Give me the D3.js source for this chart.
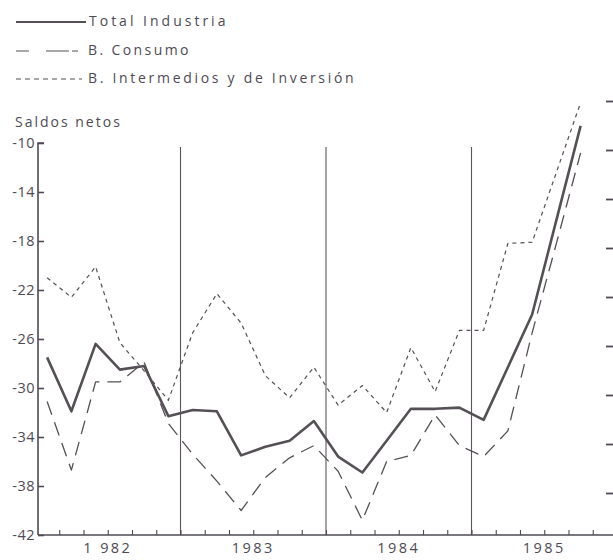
<!DOCTYPE html>
<html>
<head>
<meta charset="utf-8">
<script src="https://cdn.jsdelivr.net/npm/d3@7"></script>
<style>
  html, body { margin: 0; padding: 0; background: #ffffff; }
  svg { display: block; }
  text { font-family: "Open Sans", "DejaVu Sans", sans-serif; fill: #4f4a55; }
</style>
</head>
<body>
<svg id="chart" width="613" height="560"></svg>
<script>
// ---- data (bimonthly survey balances, "saldos netos") ----
const periods = [
  "1982-1","1982-2","1982-3","1982-4","1982-5","1982-6",
  "1983-1","1983-2","1983-3","1983-4","1983-5","1983-6",
  "1984-1","1984-2","1984-3","1984-4","1984-5","1984-6",
  "1985-1","1985-2","1985-3","1985-4","1985-5"
];
const totalIndustria = [
  -27.5, -31.9, -26.4, -28.5, -28.2, -32.3,
  -31.8, -31.9, -35.5, -34.8, -34.3, -32.7,
  -35.6, -36.9, -34.3, -31.7, -31.7, -31.6,
  -32.6, -28.3, -24.0, -16.3, -8.6
];
const bConsumo = [
  -31.1, -36.7, -29.5, -29.5, -27.9, -32.9,
  -35.4, -37.6, -40.0, -37.3, -35.7, -34.7,
  -36.8, -40.8, -36.0, -35.5, -32.2, -34.7,
  -35.6, -33.5, -25.5, -18.2, -10.8
];
const bIntermedios = [
  -21.0, -22.6, -20.1, -26.3, -28.6, -31.0,
  -25.5, -22.3, -24.7, -29.0, -30.8, -28.3,
  -31.4, -29.8, -32.0, -26.7, -30.3, -25.3,
  -25.3, -18.2, -18.1, -12.4, -6.7
];
const years = ["1 982", "1983", "1984", "1985"];
const yTicks = [-10, -14, -18, -22, -26, -30, -34, -38, -42];
const yTickLabels = ["-10", "-14", "-18", "-22", "-26", "-30", "-34", "-38", "-42"];
const rightTicks = [-6, -10, -14, -18, -22, -26, -30, -34, -38];
const seriesNames = ["Total Industria", "B. Consumo", "B. Intermedios y de Inversión"];

// ---- layout ----
const svg = d3.select("#chart");
const ink = "#4f4a55";
const lineInk = "#555055";

const x = d3.scaleLinear().domain([0, 24]).range([35, 617]);
const y = d3.scaleLinear().domain([-42, -10]).range([535, 143]);
const axisX0 = 38;

const series = [
  { name: seriesNames[0], values: totalIndustria, width: 2.6, dash: null },
  { name: seriesNames[1], values: bConsumo, width: 1.3, dash: "14,8" },
  { name: seriesNames[2], values: bIntermedios, width: 1.2, dash: "4,4" }
];

// year separators
svg.append("g").selectAll("line")
  .data([6, 12, 18]).join("line")
  .attr("x1", d => x(d)).attr("x2", d => x(d))
  .attr("y1", 147).attr("y2", y(-42))
  .attr("stroke", "#5e5360").attr("stroke-width", 1.1);

// left axis
const yAxis = d3.axisRight(y).tickValues(yTicks).tickSize(6).tickFormat("");
const gy = svg.append("g").attr("transform", `translate(${axisX0},0)`).call(yAxis);
gy.select(".domain").attr("d", `M6,${y(-10)}H0V${y(-42)}`).attr("stroke", ink).attr("stroke-width", 1.6).attr("fill", "none");
gy.selectAll(".tick line").attr("stroke", ink).attr("stroke-width", 1.6);

svg.append("g").selectAll("text")
  .data(yTicks).join("text")
  .attr("x", 35).attr("y", d => y(d))
  .attr("dy", "0.36em")
  .attr("text-anchor", "end")
  .attr("font-size", 14.5)
  .attr("letter-spacing", 0.5)
  .text((d, i) => yTickLabels[i]);

// bottom axis
const xAxis = d3.axisTop(x).tickValues(d3.range(1, 24)).tickSize(5).tickFormat("");
const gx = svg.append("g").attr("transform", `translate(0,${y(-42)})`).call(xAxis);
gx.select(".domain").attr("d", `M${axisX0},0H613`).attr("stroke", ink).attr("stroke-width", 1.6);
gx.selectAll(".tick line").attr("stroke", ink).attr("stroke-width", 1.1);

svg.append("g").selectAll("text")
  .data(years).join("text")
  .attr("x", (d, i) => x(i * 6 + 3))
  .attr("y", 553)
  .attr("text-anchor", "middle")
  .attr("font-size", 14.5)
  .attr("letter-spacing", 2.4)
  .text(d => d);

// right axis ticks (no labels)
const rAxis = d3.axisLeft(y).tickValues(rightTicks).tickSize(7).tickFormat("");
const gr = svg.append("g").attr("transform", "translate(613,7)").call(rAxis);
gr.select(".domain").remove();
gr.selectAll(".tick line").attr("stroke", ink).attr("stroke-width", 1.8);

// y title
svg.append("text").attr("x", 15).attr("y", 127)
  .attr("font-size", 14).attr("letter-spacing", 2)
  .text("Saldos netos");

// lines
const line = d3.line()
  .x((d, i) => x(i + 0.5))
  .y(d => y(d));

svg.append("g").selectAll("path")
  .data(series).join("path")
  .attr("d", d => line(d.values))
  .attr("fill", "none")
  .attr("stroke", lineInk)
  .attr("stroke-width", d => d.width)
  .attr("stroke-dasharray", d => d.dash)
  .attr("stroke-linejoin", "round");

// legend
const legend = svg.append("g");
const legendY = [22, 51, 79];
const legendDash = [null, "13,17,23,3,6,99", "5,4"];
const legendSpacing = [3.0, 2.4, 2.7];
series.forEach((s, i) => {
  legend.append("line")
    .attr("x1", 16).attr("x2", i === 0 ? 86 : 82)
    .attr("y1", legendY[i]).attr("y2", legendY[i])
    .attr("stroke", lineInk)
    .attr("stroke-width", i === 0 ? 2.2 : 1.2)
    .attr("stroke-dasharray", legendDash[i]);
  legend.append("text")
    .attr("x", i === 0 ? 89 : 88)
    .attr("y", legendY[i] + 4)
    .attr("font-size", 14)
    .attr("letter-spacing", legendSpacing[i])
    .text(s.name);
});
</script>
</body>
</html>
